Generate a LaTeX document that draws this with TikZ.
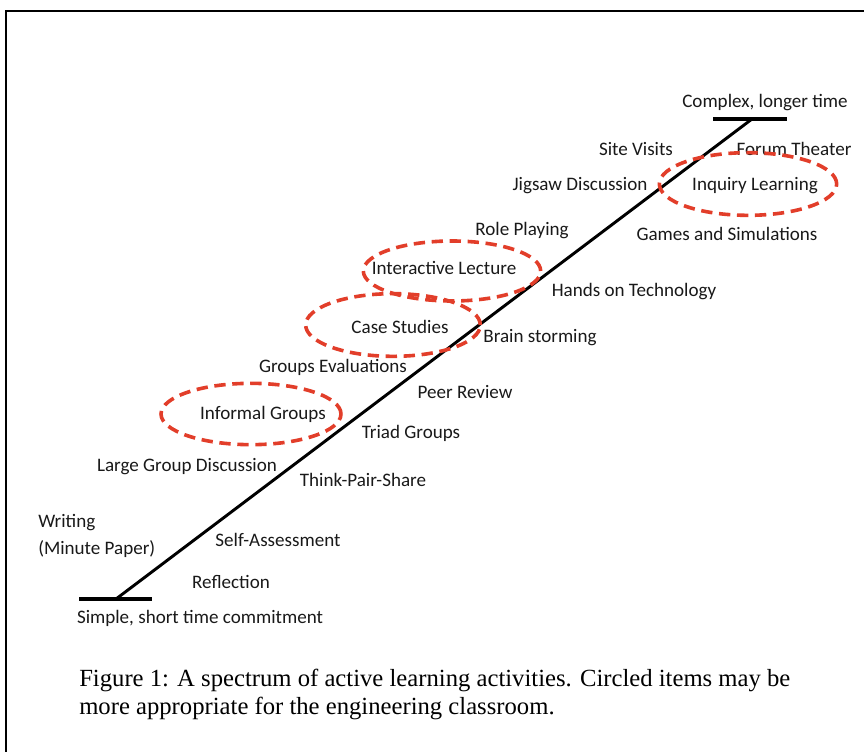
\documentclass[tikz,border=0pt]{standalone}
\usepackage{fontspec}
\setmainfont{Liberation Serif}
\newfontfamily\calibri{Carlito}
\usetikzlibrary{shapes.geometric}
\definecolor{ovalred}{RGB}{226,62,42}

\begin{document}
\begin{tikzpicture}[x=0.75pt, y=-0.75pt,
        txt/.style={inner sep=0pt, font=\calibri\fontsize{14.3}{20}\selectfont, text=black!90},
        item/.style={txt, text height=9.5pt, text depth=0.5pt},
        oval/.style={ellipse, draw=ovalred, line width=2.7pt, dash pattern=on 8.5pt off 5pt},
        spine/.style={draw=black, line width=2.2pt},
        bar/.style={draw=black, line width=2.8pt}
    ]
    \useasboundingbox (0,0) rectangle (864,752);

    % frame, open at right and bottom
    \draw[line width=1.8pt] (6,752) -- (6,11) -- (864,11);

    % the spectrum line with its two end bars
    \coordinate (low)   at (116,599);
    \coordinate (high)  at (752,119);
    \coordinate (lowL)  at (79,599);
    \coordinate (lowR)  at (152,599);
    \coordinate (highL) at (713,119);
    \coordinate (highR) at (787,119);
    \draw[spine] (low) -- (high);
    \draw[bar] (lowL) -- (lowR);
    \draw[bar] (highL) -- (highR);

    % activities
    \node[item] (complex)  at (765,102) {Complex, longer time};
    \node[item] (site)     at (636,150) {Site Visits};
    \node[item] (forum)    at (794,150) {Forum Theater};
    \node[item] (inquiry)  at (755,185) {Inquiry Learning};
    \node[item] (jigsaw)   at (580,185) {Jigsaw Discussion};
    \node[item] (games)    at (727,235) {Games and Simulations};
    \node[item] (role)     at (522,230) {Role Playing};
    \node[item] (lecture)  at (444,269) {Interactive Lecture};
    \node[item] (hands)    at (634,291) {Hands on Technology};
    \node[item] (cases)    at (400,328) {Case Studies};
    \node[item] (brain)    at (540,337) {Brain storming};
    \node[item] (evals)    at (333,367) {Groups Evaluations};
    \node[item] (peer)     at (465,392) {Peer Review};
    \node[item] (informal) at (263,413) {Informal Groups};
    \node[item] (triad)    at (411,432) {Triad Groups};
    \node[item] (large)    at (187,465) {Large Group Discussion};
    \node[item] (tps)      at (363,480) {Think-Pair-Share};
    \node[txt, align=left, anchor=west] (writing) at (38,536) {Writing\\(Minute Paper)};
    \node[item] (self)     at (278,540) {Self-Assessment};
    \node[item] (reflect)  at (231,582) {Reflection};
    \node[item] (simple)   at (200,617) {Simple, short time commitment};

    % circled items
    \node[oval, minimum width=133pt, minimum height=47pt] (inqOval)  at (748,184) {};
    \node[oval, minimum width=133pt, minimum height=45pt] (lecOval)  at (452,271) {};
    \node[oval, minimum width=131pt, minimum height=47pt] (caseOval) at (393,325) {};
    \node[oval, minimum width=135pt, minimum height=46pt] (infOval)  at (251,414) {};

    \node[anchor=west, align=left, inner sep=0pt, font=\fontsize{18.5}{21}\selectfont]
        (caption) at (79,694) {Figure 1: A spectrum of active learning activities. Circled items may be\\more appropriate for the engineering classroom.};
\end{tikzpicture}
\end{document}
